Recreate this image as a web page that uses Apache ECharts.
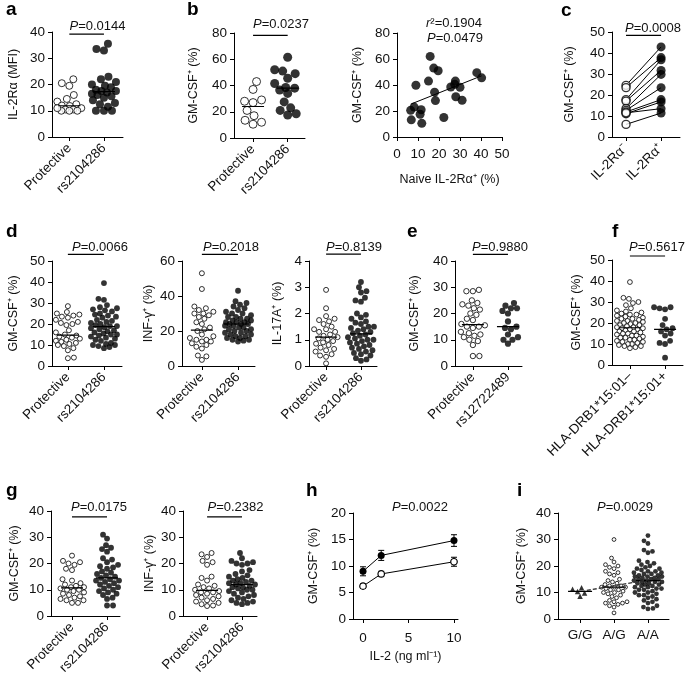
<!DOCTYPE html>
<html><head><meta charset="utf-8">
<script src="https://cdn.jsdelivr.net/npm/echarts@6/dist/echarts.min.js"></script>
<style>html,body{margin:0;padding:0;background:#fff}#c{width:685px;height:679px}</style>
</head><body><div id="c"></div><script>
// ---------------- DATA ----------------
const catsRs = ['Protective', 'rs2104286'];
const catsE = ['Protective', 'rs12722489'];
const catsF = ['HLA-DRB1*15:01–', 'HLA-DRB1*15:01+'];
const catsC = ['IL-2Rα⁻', 'IL-2Rα⁺'];
const catsI = ['G/G', 'A/G', 'A/A'];

// a: IL-2Ra MFI
const aProt = [22, 20.5, 19.5, 16, 14.5, 13.5, 12.5, 12, 11.8, 11, 10.5, 10.5, 10, 10, 10, 11];
const aRs = [35.5, 33.5, 33, 23, 22, 21, 20, 19.5, 19, 18, 17.5, 17.5, 17, 16.5, 16, 15.5, 15, 14, 13, 12.5, 11.5, 10, 10, 10];
// b left: GM-CSF
const bProt = [43, 37, 29, 28, 27, 21, 17, 13.5, 12, 10.5];
const bRs = [61.5, 52, 51, 49, 45.5, 41.5, 38.5, 38, 36.5, 34, 27.5, 23, 21, 18.5, 17.5];
// b right: correlation
const bNaive = [6.5, 8.2, 6.8, 9, 11.5, 11, 11.8, 15, 15.8, 17.5, 19.6, 17.9, 18.3, 22.3, 25.6, 27.8, 28, 30, 31, 38, 40.3, 27.5];
const bGm = [20.5, 23, 13.2, 39.8, 21, 17.5, 10.5, 43, 62, 53, 51, 34.5, 28, 15, 38.5, 43, 31, 38.3, 28.3, 49.5, 45.5, 40.5];
// c: paired
const cNeg = [24.6, 23.5, 17.8, 17.1, 13.5, 12.7, 11.9, 11.1, 11.5, 6.0];
const cPos = [42.9, 37.8, 36.8, 31.7, 29.8, 23.5, 17.8, 16.7, 13.5, 11.4];
// d
const d1Prot = [28.5, 25.7, 25, 24.5, 24, 23.5, 23, 22, 21, 20.5, 20, 19.5, 17, 16, 15, 14.5, 14, 13.5, 13, 12.5, 12, 11.5, 11, 10.5, 10, 9.5, 8.5, 7.5, 4, 3.7];
const d1Rs = [39.5, 32, 31.5, 29, 28, 27.5, 27, 26.5, 26, 25, 24.5, 24, 23.5, 23, 22, 21.5, 21, 20.5, 20, 19.5, 19, 19, 18.5, 18, 17.5, 17, 16.5, 16, 15.5, 15, 15, 14.5, 14, 13.5, 13, 12.5, 12, 11, 10.5, 10, 10, 9.5, 9, 8.5];
const d2Prot = [53, 44, 34, 33, 32, 31, 30, 30, 29, 28, 27, 25, 24, 22, 21, 20, 18, 17, 16, 15, 15, 14, 14, 13, 12, 11, 10, 6, 5.5, 3.5];
const d2Rs = [43, 37, 36, 35, 34, 33, 32, 31, 30, 30, 29, 28, 28, 27, 27, 26, 26, 25, 25, 25, 24, 24, 24, 23, 23, 22, 22, 21, 21, 20, 20, 19, 19, 18, 18, 17, 17, 16, 16, 15, 15, 14.5, 14];
const d3Prot = [2.9, 2.2, 1.9, 1.8, 1.75, 1.7, 1.6, 1.5, 1.4, 1.4, 1.3, 1.3, 1.2, 1.15, 1.1, 1.05, 1.0, 0.95, 0.9, 0.85, 0.8, 0.7, 0.65, 0.6, 0.55, 0.45, 0.4, 0.35, 0.1];
const d3Rs = [3.2, 3.0, 2.85, 2.8, 2.6, 2.5, 2.45, 2.0, 1.95, 1.85, 1.8, 1.7, 1.65, 1.6, 1.5, 1.5, 1.45, 1.4, 1.35, 1.3, 1.25, 1.2, 1.15, 1.1, 1.05, 1.0, 1.0, 0.95, 0.9, 0.85, 0.8, 0.75, 0.7, 0.65, 0.6, 0.55, 0.5, 0.45, 0.4, 0.3, 0.25, 0.2];
// e
const eProt = [29, 28.5, 28.5, 25, 24, 23.5, 23, 22, 21.5, 20, 19.5, 18, 17.5, 16, 15.5, 15, 15, 14.5, 13, 12.5, 12, 11.5, 11, 10, 9.5, 8, 3.8, 3.8];
const eRs = [24, 23, 22, 22, 21, 20, 17, 15, 14.5, 14, 12, 11, 10, 10, 8.5];
// f
const fNeg = [39.5, 32, 31.5, 30, 29.5, 28.5, 27, 26, 25.5, 25, 24.5, 24, 24, 23.5, 23, 22.5, 22, 22, 21.5, 21, 21, 20.5, 20, 20, 19.5, 19, 19, 18.5, 18, 18, 17.5, 17.5, 17, 17, 16.5, 16, 16, 15.5, 15, 15, 14.5, 14, 14, 13.5, 13, 13, 12.5, 12, 12, 11.5, 11, 11, 10.5, 10, 10, 9.5, 9, 9, 8.5, 8];
const fPos = [27.5, 27.5, 27, 26.5, 22, 19, 17.5, 17, 16, 15, 14, 11.5, 10.5, 10, 3.5];
// g
const g1Prot = [23, 21, 20.5, 20, 19.5, 18, 17.5, 14, 13.5, 12.5, 12, 11.5, 11, 11, 10.5, 10, 10, 9.5, 9, 8.5, 8, 7.5, 7, 6.5, 6, 6, 5, 5];
const g1Rs = [31, 29.5, 27, 26, 25.5, 24.5, 22, 21.5, 20.5, 19.5, 19, 18.5, 18, 17, 16.5, 16, 15.5, 15, 14.5, 14, 13.5, 13.5, 13, 12.5, 12, 11.5, 11, 10.5, 10, 9.5, 9, 8.5, 8, 7, 6.5, 4, 4];
const g2Prot = [24, 23.5, 22.5, 21, 20.5, 19.5, 15, 14.5, 13.5, 12, 11.5, 11, 10.5, 10, 9.5, 9, 9, 8.5, 8, 7.5, 7, 6.5, 6, 5.5, 5, 4.5, 4, 3.8];
const g2Rs = [24, 22, 21, 20.5, 20, 20, 19.5, 17.5, 17, 16, 15.5, 15, 14.5, 14, 13.5, 13.5, 13, 12.5, 12.5, 12, 12, 11.5, 11, 11, 10.5, 10, 10, 9.5, 9, 8.5, 8, 7.5, 7, 6.5, 6, 5.5, 5, 5, 4.5];
// h: dose response
const hDose = [0, 2, 10];
const hRs = [9.0, 12.0, 14.8];
const hRsErr = [0.85, 0.95, 1.1];
const hProt = [6.2, 8.5, 10.8];
const hProtErr = [0.45, 0.5, 0.85];
// i: genotype
const iGG = [11.8, 11.2, 10.4, 9.8, 8.6];
const iAG = [30, 23, 21.5, 20.5, 20, 19.5, 19, 18, 17.5, 17, 16.5, 15, 14.5, 14, 13.5, 13, 12.5, 12.5, 12, 12, 12, 11.5, 11, 11, 10.5, 10, 10, 9.5, 9, 8.5, 8, 7, 6.5, 6.5, 6, 6, 5.5, 5, 4.5, 2.3];
const iAA = [31.5, 29.5, 28.5, 26, 25.5, 25, 22, 21.5, 21, 20.5, 20, 19.5, 19, 19, 18.5, 18, 18, 17.5, 17.5, 17, 17, 16.5, 16.5, 16, 16, 16, 15.5, 15.5, 15, 15, 15, 14.5, 14.5, 14, 14, 14, 13.5, 13.5, 13, 13, 12.5, 12.5, 12, 12, 11.5, 11.5, 11, 11, 10.5, 10, 10, 9.5, 9, 9, 8.5, 8, 7.5, 7, 6.5, 6, 5, 4.5, 4, 3.8];

// ---------------- BUILD ----------------
const FONT = '"Liberation Sans", Arial, Helvetica, sans-serif';
const TXT = '#111';
const TICK_FS = 13.5, NAME_FS = 12.5, P_FS = 13;
const option = { animation: false, backgroundColor: '#fff', grid: [], xAxis: [], yAxis: [], series: [], graphic: [] };

function addGrid(rect, x, y) {
  const gi = option.grid.length;
  option.grid.push({ left: rect[0], top: rect[1], width: rect[2], height: rect[3], containLabel: false, outerBoundsMode: 'none' });
  const xa = {
    gridIndex: gi, type: 'value', min: x.min, max: x.max,
    axisLine: { show: true, onZero: false, lineStyle: { color: '#000', width: 1 } },
    splitLine: { show: false },
    axisTick: { show: true, length: 4, lineStyle: { color: '#000', width: 1 } },
    axisLabel: { fontSize: TICK_FS, color: TXT, fontFamily: FONT, margin: x.margin || 9, showMinLabel: true, showMaxLabel: true, hideOverlap: false },
    nameMoveOverlap: false
  };
  if (x.interval) xa.interval = x.interval;
  if (x.ticks) { xa.axisTick.customValues = x.ticks; xa.axisLabel.customValues = x.ticks; }
  if (x.labels) { const t = x.ticks, l = x.labels; xa.axisLabel.formatter = v => { const k = t.indexOf(v); return k >= 0 ? l[k] : ''; }; }
  if (x.rotate) xa.axisLabel.rotate = x.rotate;
  if (x.name) { xa.name = x.name; xa.nameLocation = 'middle'; xa.nameGap = x.nameGap; xa.nameTextStyle = { fontSize: NAME_FS, color: TXT, fontFamily: FONT }; }
  option.xAxis.push(xa);
  option.yAxis.push({
    gridIndex: gi, type: 'value', min: y.min || 0, max: y.max, interval: y.interval,
    axisLine: { show: true, onZero: false, lineStyle: { color: '#000', width: 1 } },
    splitLine: { show: false },
    axisTick: { show: true, length: 4, lineStyle: { color: '#000', width: 1 } },
    axisLabel: { fontSize: TICK_FS, color: TXT, fontFamily: FONT, margin: 7, showMinLabel: true, showMaxLabel: true },
    name: y.name, nameLocation: 'middle', nameGap: y.nameGap, nameMoveOverlap: false,
    nameTextStyle: { fontSize: NAME_FS, color: TXT, fontFamily: FONT }
  });
  return { gi, rect, x, y, xPx: rect[2] / (x.max - x.min), yPx: rect[3] / (y.max - (y.min || 0)) };
}

function median(a) { const s = a.slice().sort((p, q) => p - q); const n = s.length; return n % 2 ? s[(n - 1) / 2] : (s[n / 2 - 1] + s[n / 2]) / 2; }

function swarm(vals, size, yPx, half) {
  const order = vals.map((v, i) => i).sort((a, b) => vals[a] - vals[b]);
  const placed = []; const off = new Array(vals.length).fill(0);
  const minD = size * 0.95;
  order.forEach((i, n) => {
    const y = vals[i] * yPx;
    const near = placed.filter(p => Math.abs(p.y - y) < minD);
    let chosen = null, bestX = 0, bestD = -1;
    const sgn = n % 2 ? 1 : -1;
    for (let s = 0; s <= half; s += 0.5) {
      const cands = s === 0 ? [0] : [sgn * s, -sgn * s];
      for (const dx of cands) {
        let d = Infinity;
        for (const p of near) d = Math.min(d, Math.hypot(p.x - dx, p.y - y));
        if (d >= minD) { chosen = dx; break; }
        if (d > bestD) { bestD = d; bestX = dx; }
      }
      if (chosen !== null) break;
    }
    if (chosen === null) chosen = bestX;
    off[i] = chosen; placed.push({ x: chosen, y });
  });
  return off;
}

function pointStyle(filled) {
  return filled ? { color: '#000', borderColor: '#000', borderWidth: 0 } : { color: '#fff', borderColor: '#000', borderWidth: 1 };
}

function strip(G, vals, cat, filled, size, half, symbol, medHalf) {
  const off = swarm(vals, size, G.yPx, half);
  option.series.push({
    type: 'scatter', xAxisIndex: G.gi, yAxisIndex: G.gi, symbol: symbol || 'circle',
    symbolSize: filled ? size : size - 1, itemStyle: pointStyle(filled), silent: true, z: 2,
    data: vals.map((v, i) => [cat + off[i] / G.xPx, v])
  });
  const m = median(vals);
  const mh = (medHalf || 11) / G.xPx;
  option.series.push({
    type: 'line', xAxisIndex: G.gi, yAxisIndex: G.gi, symbol: 'none', silent: true, z: 4,
    lineStyle: { color: '#000', width: 1.2 }, data: [[cat - mh, m], [cat + mh, m]]
  });
}

function sigBar(G, level) {
  option.series.push({
    type: 'line', xAxisIndex: G.gi, yAxisIndex: G.gi, symbol: 'none', silent: true, clip: false,
    lineStyle: { color: '#000', width: 1.2 }, data: [[0, level], [1, level]]
  });
}

function ptext(x, y, str) {
  option.graphic.push({
    type: 'text', x, y, silent: true,
    style: { text: str, fontSize: P_FS, fontFamily: FONT, fill: TXT, align: 'center', verticalAlign: 'middle',
      rich: { i: { fontStyle: 'italic', fontSize: P_FS, fontFamily: FONT, fill: TXT } } }
  });
}
function letter(x, y, s) {
  option.graphic.push({ type: 'text', x, y, silent: true,
    style: { text: s, fontSize: 19, fontWeight: 'bold', fontFamily: FONT, fill: '#000', align: 'left', verticalAlign: 'middle' } });
}
const GM = 'GM-CSF⁺ (%)';

// ---- a
const A = addGrid([52, 32, 71, 105], { min: -0.5, max: 1.55, ticks: [0, 1], labels: catsRs, rotate: 45 }, { max: 40, interval: 10, name: 'IL-2Rα (MFI)', nameGap: 32 });
strip(A, aProt, 0, false, 8, 12); strip(A, aRs, 1, true, 8, 12); sigBar(A, 39.2);
ptext(97.5, 26, '{i|P}=0.0144'); letter(6, 9.5, 'a');

// ---- b left
const BL = addGrid([234, 33, 71, 105], { min: -0.55, max: 1.5, ticks: [0, 1], labels: catsRs, rotate: 45 }, { max: 80, interval: 20, name: GM, nameGap: 34 });
strip(BL, bProt, 0, false, 9, 13); strip(BL, bRs, 1, true, 9, 13); sigBar(BL, 78.2);
ptext(281, 24, '{i|P}=0.0237'); letter(187, 9.5, 'b');

// ---- b right
const BR = addGrid([397, 33, 105, 104], { min: 0, max: 50, interval: 10, margin: 10, name: 'Naive IL-2Rα⁺ (%)', nameGap: 36 }, { max: 80, interval: 20, name: GM, nameGap: 33 });
option.series.push({ type: 'scatter', xAxisIndex: BR.gi, yAxisIndex: BR.gi, symbol: 'circle', symbolSize: 9, itemStyle: pointStyle(true), silent: true,
  data: bNaive.map((x, i) => [x, bGm[i]]) });
(function () {
  const n = bNaive.length; const mx = bNaive.reduce((s, v) => s + v, 0) / n; const my = bGm.reduce((s, v) => s + v, 0) / n;
  let sxy = 0, sxx = 0; for (let i = 0; i < n; i++) { sxy += (bNaive[i] - mx) * (bGm[i] - my); sxx += (bNaive[i] - mx) ** 2; }
  const sl = sxy / sxx, ic = my - sl * mx; const x0 = Math.min(...bNaive), x1 = Math.max(...bNaive);
  option.series.push({ type: 'line', xAxisIndex: BR.gi, yAxisIndex: BR.gi, symbol: 'none', silent: true, z: 3,
    lineStyle: { color: '#000', width: 1 }, data: [[x0, ic + sl * x0], [x1, ic + sl * x1]] });
})();
ptext(454, 23, '{i|r}²=0.1904'); ptext(455, 38, '{i|P}=0.0479');

// ---- c
const C = addGrid([612, 32, 68, 105], { min: -0.4, max: 1.54, ticks: [0, 1], labels: catsC, rotate: 45 }, { max: 50, interval: 10, name: GM, nameGap: 36 });
cNeg.forEach((v, i) => option.series.push({ type: 'line', xAxisIndex: C.gi, yAxisIndex: C.gi, symbol: 'none', silent: true, z: 1,
  lineStyle: { color: '#000', width: 1 }, data: [[0, v], [1, cPos[i]]] }));
option.series.push({ type: 'scatter', xAxisIndex: C.gi, yAxisIndex: C.gi, symbolSize: 8, itemStyle: { color: '#fff', borderColor: '#000', borderWidth: 1.4 }, z: 3, silent: true, data: cNeg.map(v => [0, v]) });
option.series.push({ type: 'scatter', xAxisIndex: C.gi, yAxisIndex: C.gi, symbolSize: 9, itemStyle: pointStyle(true), z: 3, silent: true, data: cPos.map(v => [1, v]) });
sigBar(C, 48.4);
ptext(653, 28, '{i|P}=0.0008'); letter(561, 11, 'c');

// ---- d
const D1 = addGrid([52, 261, 70, 105], { min: -0.44, max: 1.5, ticks: [0, 1], labels: catsRs, rotate: 45 }, { max: 50, interval: 10, name: GM, nameGap: 32 });
strip(D1, d1Prot, 0, false, 6, 12); strip(D1, d1Rs, 1, true, 5.8, 13); sigBar(D1, 53.2);
ptext(100, 247, '{i|P}=0.0066'); letter(6, 232, 'd');
const D2 = addGrid([182, 261, 73, 105], { min: -0.55, max: 1.47, ticks: [0, 1], labels: catsRs, rotate: 45 }, { max: 60, interval: 20, name: 'INF-γ⁺ (%)', nameGap: 27 });
strip(D2, d2Prot, 0, false, 6, 12); strip(D2, d2Rs, 1, true, 5.8, 13); sigBar(D2, 63.8);
ptext(231, 247, '{i|P}=0.2018');
const D3 = addGrid([309, 261, 68, 105], { min: -0.49, max: 1.46, ticks: [0, 1], labels: catsRs, rotate: 45 }, { max: 4, interval: 1, name: 'IL-17A⁺ (%)', nameGap: 25 });
strip(D3, d3Prot, 0, false, 6, 12); strip(D3, d3Rs, 1, true, 5.8, 13); sigBar(D3, 4.26);
ptext(354, 247, '{i|P}=0.8139');

// ---- e
const E = addGrid([455, 261, 67, 105], { min: -0.51, max: 1.4, ticks: [0, 1], labels: catsE, rotate: 45 }, { max: 40, interval: 10, name: GM, nameGap: 34 });
strip(E, eProt, 0, false, 6.4, 12); strip(E, eRs, 1, true, 6.2, 12); sigBar(E, 42.5);
ptext(500, 247, '{i|P}=0.9880'); letter(407, 232, 'e');

// ---- f
const F = addGrid([612, 260, 71, 105], { min: -0.51, max: 1.51, ticks: [0, 1], labels: catsF, rotate: 45 }, { max: 50, interval: 10, name: GM, nameGap: 29 });
strip(F, fNeg, 0, false, 5.8, 13); strip(F, fPos, 1, true, 5.8, 12); sigBar(F, 51.9);
ptext(657, 247, '{i|P}=0.5617'); letter(612, 232, 'f');

// ---- g
const G1 = addGrid([51, 511, 69, 105], { min: -0.6, max: 1.37, ticks: [0, 1], labels: catsRs, rotate: 45 }, { max: 40, interval: 10, name: GM, nameGap: 30 });
strip(G1, g1Prot, 0, false, 6, 12); strip(G1, g1Rs, 1, true, 5.8, 13); sigBar(G1, 37.8);
ptext(99, 507, '{i|P}=0.0175'); letter(6, 491, 'g');
const G2 = addGrid([183, 511, 74, 105], { min: -0.69, max: 1.43, ticks: [0, 1], labels: catsRs, rotate: 45 }, { max: 40, interval: 10, name: 'INF-γ⁺ (%)', nameGap: 27 });
strip(G2, g2Prot, 0, false, 6, 12); strip(G2, g2Rs, 1, true, 5.8, 13); sigBar(G2, 37.8);
ptext(235.5, 507, '{i|P}=0.2382');

// ---- h
const H = addGrid([353, 513, 105, 106], { min: -1.1, max: 10.44, ticks: [0, 5, 10], labels: ['0', '5', '10'], margin: 12, name: 'IL-2 (ng ml⁻¹)', nameGap: 31 }, { max: 20, interval: 5, name: GM, nameGap: 33 });
function errSeries(G, xs, ys, es) {
  option.series.push({ type: 'custom', xAxisIndex: G.gi, yAxisIndex: G.gi, silent: true, z: 5,
    data: xs.map((x, i) => [x, ys[i] - es[i], ys[i] + es[i]]),
    renderItem: (params, api) => {
      const p1 = api.coord([api.value(0), api.value(1)]), p2 = api.coord([api.value(0), api.value(2)]);
      const w = 3, st = { stroke: '#000', lineWidth: 1 };
      return { type: 'group', children: [
        { type: 'line', shape: { x1: p1[0], y1: p1[1], x2: p2[0], y2: p2[1] }, style: st },
        { type: 'line', shape: { x1: p1[0] - w, y1: p1[1], x2: p1[0] + w, y2: p1[1] }, style: st },
        { type: 'line', shape: { x1: p2[0] - w, y1: p2[1], x2: p2[0] + w, y2: p2[1] }, style: st }] };
    } });
}
errSeries(H, hDose, hRs, hRsErr); errSeries(H, hDose, hProt, hProtErr);
option.series.push({ type: 'line', xAxisIndex: H.gi, yAxisIndex: H.gi, symbol: 'circle', symbolSize: 7, silent: true, z: 6,
  itemStyle: pointStyle(true), lineStyle: { color: '#000', width: 1 }, data: hDose.map((x, i) => [x, hRs[i]]) });
option.series.push({ type: 'line', xAxisIndex: H.gi, yAxisIndex: H.gi, symbol: 'circle', symbolSize: 6.5, silent: true, z: 6,
  itemStyle: { color: '#fff', borderColor: '#000', borderWidth: 1.2 }, lineStyle: { color: '#000', width: 1 }, data: hDose.map((x, i) => [x, hProt[i]]) });
ptext(420, 507, '{i|P}=0.0022'); letter(306, 491, 'h');

// ---- i
const I = addGrid([558, 513, 111, 106], { min: -0.65, max: 2.62, ticks: [0, 1, 2], labels: catsI, margin: 9 }, { max: 40, interval: 10, name: GM, nameGap: 30 });
strip(I, iGG, 0, true, 5.5, 12, 'triangle', 12); strip(I, iAG, 1, false, 4.8, 13, 'circle', 12); strip(I, iAA, 2, true, 4.8, 14, 'circle', 12);
(function () {
  const xs = [], ys = []; [iGG, iAG, iAA].forEach((a, k) => a.forEach(v => { xs.push(k); ys.push(v); }));
  const n = xs.length; const mx = xs.reduce((s, v) => s + v, 0) / n, my = ys.reduce((s, v) => s + v, 0) / n;
  let sxy = 0, sxx = 0; for (let k = 0; k < n; k++) { sxy += (xs[k] - mx) * (ys[k] - my); sxx += (xs[k] - mx) ** 2; }
  const sl = sxy / sxx, ic = my - sl * mx;
  option.series.push({ type: 'line', xAxisIndex: I.gi, yAxisIndex: I.gi, symbol: 'none', silent: true, z: 5,
    lineStyle: { color: '#333', width: 1.3, type: [4, 2] }, data: [[0.2, ic + sl * 0.2], [2.4, ic + sl * 2.4]] });
})();
ptext(625, 507, '{i|P}=0.0029'); letter(517, 491, 'i');

const chart = echarts.init(document.getElementById('c'), null, { renderer: 'canvas' });
chart.setOption(option);
</script></body></html>
